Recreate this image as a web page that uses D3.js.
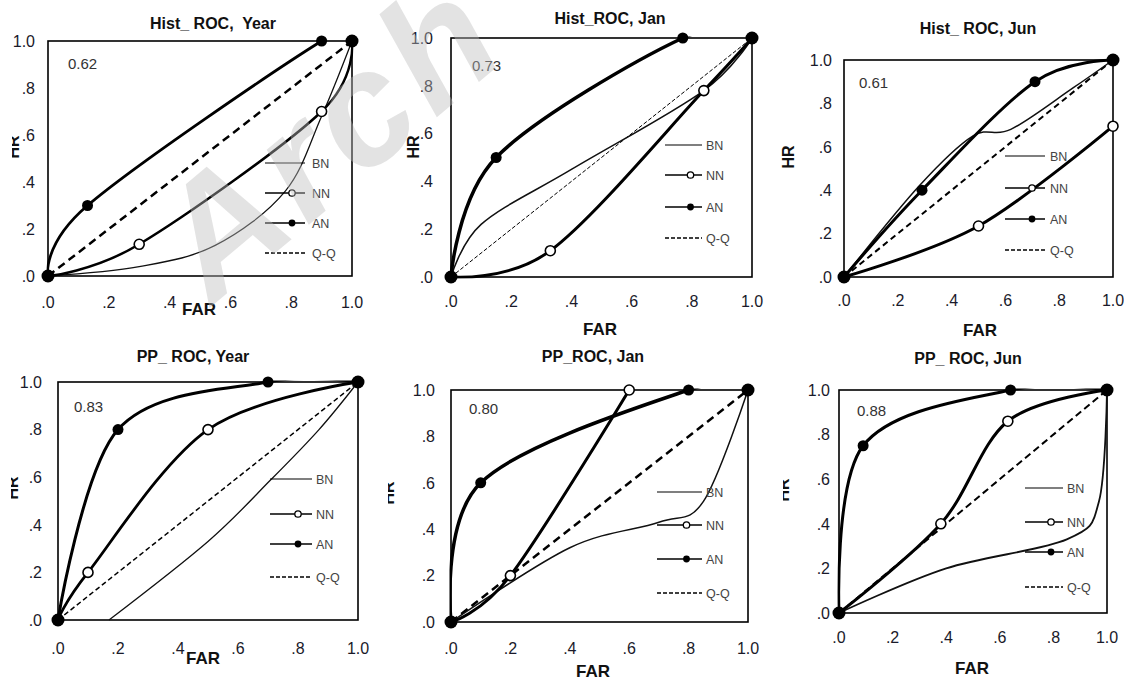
<!DOCTYPE html>
<html lang="en">
<head>
    <meta charset="UTF-8">
    <title>ROC panels</title>
    <style>
        body { margin: 0; padding: 0; background: #fff; }
        svg { display: block; }
        text { font-family: 'Liberation Sans', Arial, sans-serif; }
    </style>
</head>
<body>
<svg id="chart" width="1124" height="682"></svg>
<script src="https://d3js.org/d3.v7.min.js"></script>
<script>
    // axis ticks
    const tickValues = [0, 0.2, 0.4, 0.6, 0.8, 1];
    const tickLabels = [".0", ".2", ".4", ".6", ".8", "1.0"];
    const legendLabels = ["BN", "NN", "AN", "Q-Q"];

    const panelTitles = ["Hist_ ROC,  Year", "Hist_ROC, Jan", "Hist_ ROC, Jun",
                         "PP_ ROC, Year", "PP_ROC, Jan", "PP_ ROC, Jun"];
    const aucValues = ["0.62", "0.73", "0.61", "0.83", "0.80", "0.88"];

    // [FAR, HR]
    const histYearBN = [[0, 0], [0.3, 0.04], [0.55, 0.13], [0.78, 0.36], [0.9, 0.68], [1, 1]];
    const histYearNN = [[0, 0], [0.3, 0.135], [0.9, 0.7], [1, 1]];
    const histYearAN = [[0, 0], [0.13, 0.3], [0.9, 1], [1, 1]];

    const histJanBN = [[0, 0], [0.1, 0.22], [0.4, 0.45], [0.84, 0.78], [1, 1]];
    const histJanNN = [[0, 0], [0.33, 0.11], [0.84, 0.78], [1, 1]];
    const histJanAN = [[0, 0], [0.15, 0.5], [0.77, 1], [1, 1]];

    const histJunBN = [[0, 0], [0.28, 0.42], [0.48, 0.65], [0.62, 0.68], [0.85, 0.87], [1, 1]];
    const histJunNN = [[0, 0], [0.5, 0.235], [1, 0.695]];
    const histJunAN = [[0, 0], [0.29, 0.4], [0.71, 0.9], [1, 1]];

    const ppYearBN = [[0.17, 0], [0.5, 0.33], [0.71, 0.59], [0.87, 0.8], [1, 1]];
    const ppYearNN = [[0, 0], [0.1, 0.2], [0.5, 0.8], [1, 1]];
    const ppYearAN = [[0, 0], [0.2, 0.8], [0.7, 1], [1, 1]];

    const ppJanBN = [[0, 0], [0.4, 0.32], [0.7, 0.43], [0.85, 0.52], [1, 1]];
    const ppJanNN = [[0, 0], [0.2, 0.2], [0.6, 1]];
    const ppJanAN = [[0, 0], [0.1, 0.6], [0.8, 1], [1, 1]];

    const ppJunBN = [[0, 0], [0.4, 0.2], [0.85, 0.33], [0.97, 0.5], [1, 1]];
    const ppJunNN = [[0, 0], [0.38, 0.4], [0.63, 0.86], [1, 1]];
    const ppJunAN = [[0, 0], [0.09, 0.75], [0.64, 1], [1, 1]];

    const qqLine = [[0, 0], [1, 1]];

    const seriesBN = [histYearBN, histJanBN, histJunBN, ppYearBN, ppJanBN, ppJunBN];
    const seriesNN = [histYearNN, histJanNN, histJunNN, ppYearNN, ppJanNN, ppJunNN];
    const seriesAN = [histYearAN, histJanAN, histJunAN, ppYearAN, ppJanAN, ppJunAN];

    // panel geometry (pixels)
    const layout = [
        { l: 48, r: 352, t: 41, b: 276, title: [213, 29], auc: [68, 69], yOff: 13, xBase: 32,
          far: [199, 315], hr: [19, 147, 12], leg: [265, 305, 312, [163, 193, 223, 253]],
          qq: { w: 2.5, dash: "8,5" }, an: 2.8, nn: 2.5, bn: 1.3 },
        { l: 451, r: 752, t: 38, b: 277, title: [610, 24], auc: [472, 71], yOff: 18, xBase: 30,
          far: [600, 335], hr: [419, 147, null], leg: [665, 702, 706, [145, 175, 207, 238]],
          qq: { w: 1, dash: "4,2" }, an: 3.5, nn: 3, bn: 1.5 },
        { l: 844, r: 1113, t: 60, b: 277, title: [978, 34], auc: [859, 88], yOff: 12, xBase: 29,
          far: [980, 336], hr: [794, 157, null], leg: [1005, 1045, 1050, [156, 188, 219, 250]],
          qq: { w: 2, dash: "6,4" }, an: 3, nn: 3, bn: 1.5 },
        { l: 58, r: 358, t: 382, b: 620, title: [193, 362], auc: [74, 412], yOff: 16, xBase: 34,
          far: [203, 664], hr: [18, 488, 11], leg: [270, 312, 316, [479, 514, 544, 577]],
          qq: { w: 1.5, dash: "5,3" }, an: 3, nn: 2.8, bn: 1.3 },
        { l: 451, r: 748, t: 390, b: 622, title: [593, 362], auc: [469, 414], yOff: 16, xBase: 32,
          far: [593, 677], hr: [394, 493, 388], leg: [657, 702, 706, [492, 525, 559, 593]],
          qq: { w: 2.5, dash: "8,5" }, an: 3.5, nn: 3, bn: 1.5 },
        { l: 839, r: 1107, t: 390, b: 613, title: [968, 364], auc: [857, 416], yOff: 9, xBase: 30,
          far: [972, 674], hr: [789, 490, 783], leg: [1025, 1063, 1067, [488, 522, 552, 587]],
          qq: { w: 2, dash: "7,4" }, an: 3, nn: 3, bn: 1.8 }
    ];

    const svg = d3.select("#chart");
    svg.append("rect").attr("width", 1124).attr("height", 682).attr("fill", "#fff");
    const defs = svg.append("defs");

    layout.forEach((p, i) => {
        const g = svg.append("g");
        const x = d3.scaleLinear().domain([0, 1]).range([p.l, p.r]);
        const y = d3.scaleLinear().domain([0, 1]).range([p.b, p.t]);
        const line = d3.line()
            .x(d => x(d[0]))
            .y(d => y(d[1]))
            .curve(d3.curveCardinal.tension(0));

        // smoothed lines are kept inside the frame (Excel-like)
        defs.append("clipPath").attr("id", "plotclip" + i)
            .append("rect")
            .attr("x", p.l - 1.5).attr("y", p.t - 1.5)
            .attr("width", p.r - p.l + 3).attr("height", p.b - p.t + 3);

        // plot frame
        g.append("rect")
            .attr("x", p.l).attr("y", p.t)
            .attr("width", p.r - p.l).attr("height", p.b - p.t)
            .attr("fill", "none").attr("stroke", "#000").attr("stroke-width", 1.6);

        // title
        g.append("text")
            .attr("x", p.title[0]).attr("y", p.title[1])
            .attr("text-anchor", "middle")
            .attr("font-size", 16).attr("font-weight", "bold").attr("fill", "#111")
            .attr("xml:space", "preserve")
            .text(panelTitles[i]);

        // y ticks
        g.selectAll(".yt").data(tickValues).enter().append("text")
            .attr("x", p.l - p.yOff).attr("y", d => y(d))
            .attr("dy", "0.36em")
            .attr("text-anchor", "end")
            .attr("font-size", 16).attr("fill", "#1a1a2a")
            .text((d, k) => tickLabels[k]);

        // x ticks
        g.selectAll(".xt").data(tickValues).enter().append("text")
            .attr("x", d => x(d)).attr("y", p.b + p.xBase)
            .attr("text-anchor", "middle")
            .attr("font-size", 16).attr("fill", "#1a1a2a")
            .text((d, k) => tickLabels[k]);

        // axis titles
        g.append("text")
            .attr("x", p.far[0]).attr("y", p.far[1])
            .attr("text-anchor", "middle")
            .attr("font-size", 17).attr("font-weight", "bold").attr("fill", "#111")
            .text("FAR");

        const hr = g.append("text")
            .attr("transform", `translate(${p.hr[0]},${p.hr[1]}) rotate(-90)`)
            .attr("text-anchor", "middle")
            .attr("font-size", 16).attr("font-weight", "bold").attr("fill", "#111")
            .text("HR");
        if (p.hr[2] !== null) {
            defs.append("clipPath").attr("id", "hrclip" + i)
                .append("rect")
                .attr("x", p.hr[2]).attr("y", p.hr[1] - 20)
                .attr("width", 30).attr("height", 40);
            g.append("g").attr("clip-path", `url(#hrclip${i})`).node().appendChild(hr.node());
        }

        // AUC value
        g.append("text")
            .attr("x", p.auc[0]).attr("y", p.auc[1])
            .attr("font-size", 15).attr("fill", "#333")
            .text(aucValues[i]);

        // curves
        const curves = g.append("g").attr("clip-path", `url(#plotclip${i})`);

        curves.append("path").datum(qqLine)
            .attr("d", line).attr("fill", "none")
            .attr("stroke", "#000").attr("stroke-width", p.qq.w)
            .attr("stroke-dasharray", p.qq.dash);

        curves.append("path").datum(seriesBN[i])
            .attr("d", line).attr("fill", "none")
            .attr("stroke", "#111").attr("stroke-width", p.bn);

        curves.append("path").datum(seriesNN[i])
            .attr("d", line).attr("fill", "none")
            .attr("stroke", "#000").attr("stroke-width", p.nn);

        curves.append("path").datum(seriesAN[i])
            .attr("d", line).attr("fill", "none")
            .attr("stroke", "#000").attr("stroke-width", p.an);

        g.selectAll(".nn").data(seriesNN[i]).enter().append("circle")
            .attr("cx", d => x(d[0])).attr("cy", d => y(d[1]))
            .attr("r", 5).attr("fill", "#fff")
            .attr("stroke", "#000").attr("stroke-width", 1.6);

        g.selectAll(".an").data(seriesAN[i]).enter().append("circle")
            .attr("cx", d => x(d[0])).attr("cy", d => y(d[1]))
            .attr("r", (d, k) => (k === 0 || k === seriesAN[i].length - 1) ? 6.5 : 5.5)
            .attr("fill", "#000");

        // legend
        const [lx1, lx2, tx, ys] = p.leg;
        const lm = (lx1 + lx2) / 2 + 7;
        legendLabels.forEach((lab, k) => {
            const ly = ys[k];
            g.append("line")
                .attr("x1", lx1).attr("x2", lx2).attr("y1", ly).attr("y2", ly)
                .attr("stroke", "#000")
                .attr("stroke-width", k === 0 ? 1.2 : 1.6)
                .attr("stroke-dasharray", k === 3 ? "4,2" : null);
            if (k === 1) {
                g.append("circle").attr("cx", lm).attr("cy", ly).attr("r", 3.2)
                    .attr("fill", "#fff").attr("stroke", "#000").attr("stroke-width", 1.3);
            }
            if (k === 2) {
                g.append("circle").attr("cx", lm).attr("cy", ly).attr("r", 3.4)
                    .attr("fill", "#000");
            }
            g.append("text")
                .attr("x", tx).attr("y", ly).attr("dy", "0.36em")
                .attr("font-size", 12.5).attr("fill", "#444")
                .text(lab);
        });
    });

    // faint watermark lying over the first row
    svg.append("text")
        .attr("transform", "translate(212,306) rotate(-40)")
        .attr("font-family", "'Liberation Serif', 'DejaVu Serif', serif")
        .attr("font-style", "italic").attr("font-weight", "bold")
        .attr("font-size", 160)
        .attr("letter-spacing", 8)
        .attr("fill", "#bdbdbd").attr("fill-opacity", 0.42)
        .text("Arch");
</script>
</body>
</html>
